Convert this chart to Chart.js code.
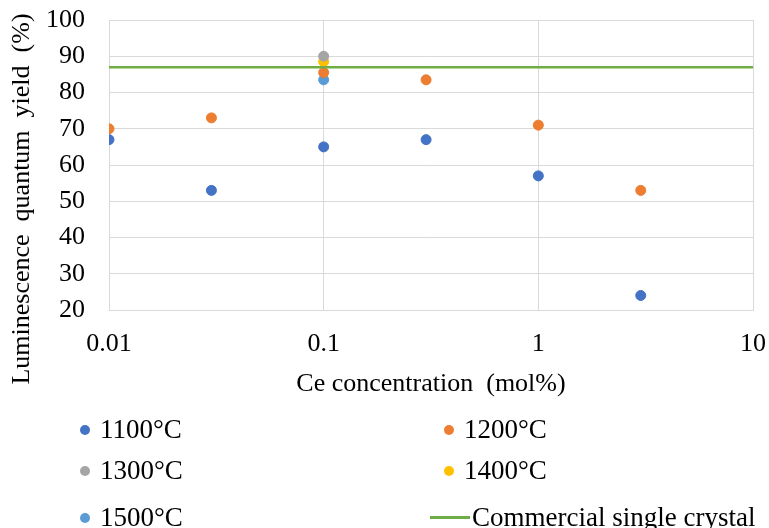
<!DOCTYPE html>
<html>
<head>
<meta charset="utf-8">
<script src="https://cdn.jsdelivr.net/npm/chart.js@4.4.1/dist/chart.umd.min.js"></script>
<style>
  body { margin: 0; background: #fff; }
  #wrap { position: relative; width: 769px; height: 528px; }
  #legend {
    position: absolute; left: 0; top: 414px; width: 769px;
    font-family: "Liberation Serif", "Times New Roman", serif;
    font-size: 27px; color: #000;
  }
  .item { position: absolute; display: flex; align-items: center; white-space: nowrap; }
  .dot { width: 10px; height: 10px; border-radius: 50%; margin-right: 10px; }
  .line { width: 40px; height: 3px; margin-right: 2px; }
</style>
</head>
<body>
<div id="wrap">
  <canvas id="chart" width="769" height="528"></canvas>
  <div id="legend"></div>
</div>
<script>
// Ce concentration (mol%)
var concentrations = [0.01, 0.03, 0.1, 0.3, 1, 3];
var yield1100 = [67, 53, 65, 67, 57, 24];
var yield1200 = [70, 73, 85.5, 83.5, 71, 53];
// only one sample at 0.1 for the higher temperatures
var concHigh = [0.1];
var yield1300 = [90];
var yield1400 = [88.5];
var yield1500 = [83.5];
// reference line
var commercialX = [0.01, 10];
var commercialY = [87, 87];

var xTicks = [0.01, 0.1, 1, 10];
var yMin = 20, yMax = 100, yStep = 10;

function pts(xs, ys){
    var out = [];
    for(var i = 0; i < ys.length; i++){
        out.push({x: xs[i], y: ys[i]});
    }
    return out;
}

var serif = "'Liberation Serif', 'Times New Roman', serif";
var gridColor = '#d9d9d9';

var datasets = [
    {label: '1100°C', data: pts(concentrations, yield1100), color: '#4472C4'},
    {label: '1200°C', data: pts(concentrations, yield1200), color: '#ED7D31'},
    {label: '1300°C', data: pts(concHigh, yield1300), color: '#A5A5A5'},
    {label: '1400°C', data: pts(concHigh, yield1400), color: '#FFC000'},
    {label: '1500°C', data: pts(concHigh, yield1500), color: '#5B9BD5'},
    {label: 'Commercial single crystal', data: pts(commercialX, commercialY), color: '#70AD47', isLine: true}
];

var chartSets = datasets.map(function(d){
    if(d.isLine){
        return {
            type: 'line', label: d.label, data: d.data,
            borderColor: d.color, borderWidth: 2.5, pointRadius: 0, fill: false, order: 0
        };
    }
    return {
        type: 'scatter', label: d.label, data: d.data,
        backgroundColor: d.color, borderColor: d.color, pointRadius: 5, pointHoverRadius: 5, order: 1
    };
});

// y title drawn by hand: in the original it sits lower than the plot centre
var yTitle = {
    id: 'yTitle',
    afterDraw: function(c){
        var g = c.ctx;
        g.save();
        g.translate(22, 199);
        g.rotate(-Math.PI / 2);
        g.font = '26px ' + serif;
        g.fillStyle = '#000';
        g.textAlign = 'center';
        g.textBaseline = 'middle';
        g.fillText('Luminescence  quantum  yield  (%)', 0, 0);
        g.restore();
    }
};

// ticks.padding also pads the chart area, so the label gap comes from an invisible tick mark
var ctx = document.getElementById('chart');
var chart = new Chart(ctx, {
    type: 'scatter',
    data: {datasets: chartSets},
    options: {
        responsive: false,
        animation: false,
        layout: {padding: {left: 0, right: 16, top: 20, bottom: 128}},
        plugins: {legend: {display: false}, tooltip: {enabled: false}},
        scales: {
            x: {
                type: 'logarithmic',
                min: 0.01, max: 10,
                afterBuildTicks: function(s){ s.ticks = xTicks.map(function(v){ return {value: v}; }); },
                afterFit: function(s){ s.height = 90; },
                grid: {color: gridColor, drawTicks: true, tickLength: 19, tickColor: 'rgba(0,0,0,0)'},
                border: {color: gridColor},
                ticks: {
                    color: '#000', padding: 0, maxRotation: 0, autoSkip: false,
                    font: {family: serif, size: 26},
                    callback: function(v){ return String(v); }
                },
                title: {display: true, text: 'Ce concentration  (mol%)', color: '#000',
                        font: {family: serif, size: 26}, padding: {top: 4, bottom: 0}}
            },
            y: {
                min: yMin, max: yMax,
                afterFit: function(s){ s.width = 109; },
                grid: {color: gridColor, drawTicks: true, tickLength: 24, tickColor: 'rgba(0,0,0,0)'},
                border: {color: gridColor},
                ticks: {color: '#000', stepSize: yStep, autoSkip: false, padding: 0,
                        font: {family: serif, size: 26}}
            }
        }
    },
    plugins: [yTitle]
});

// legend in two columns like the original
var legend = document.getElementById('legend');
var itemX = [80, 444, 80, 444, 80, 430];
var rowY = [0, 41, 88];
datasets.forEach(function(d, i){
    var el = document.createElement('div');
    el.className = 'item';
    el.style.left = itemX[i] + 'px';
    el.style.top = rowY[Math.floor(i / 2)] + 'px';
    var mark = document.createElement('span');
    mark.className = d.isLine ? 'line' : 'dot';
    mark.style.background = d.color;
    el.appendChild(mark);
    el.appendChild(document.createTextNode(d.label));
    legend.appendChild(el);
});
</script>
</body>
</html>
